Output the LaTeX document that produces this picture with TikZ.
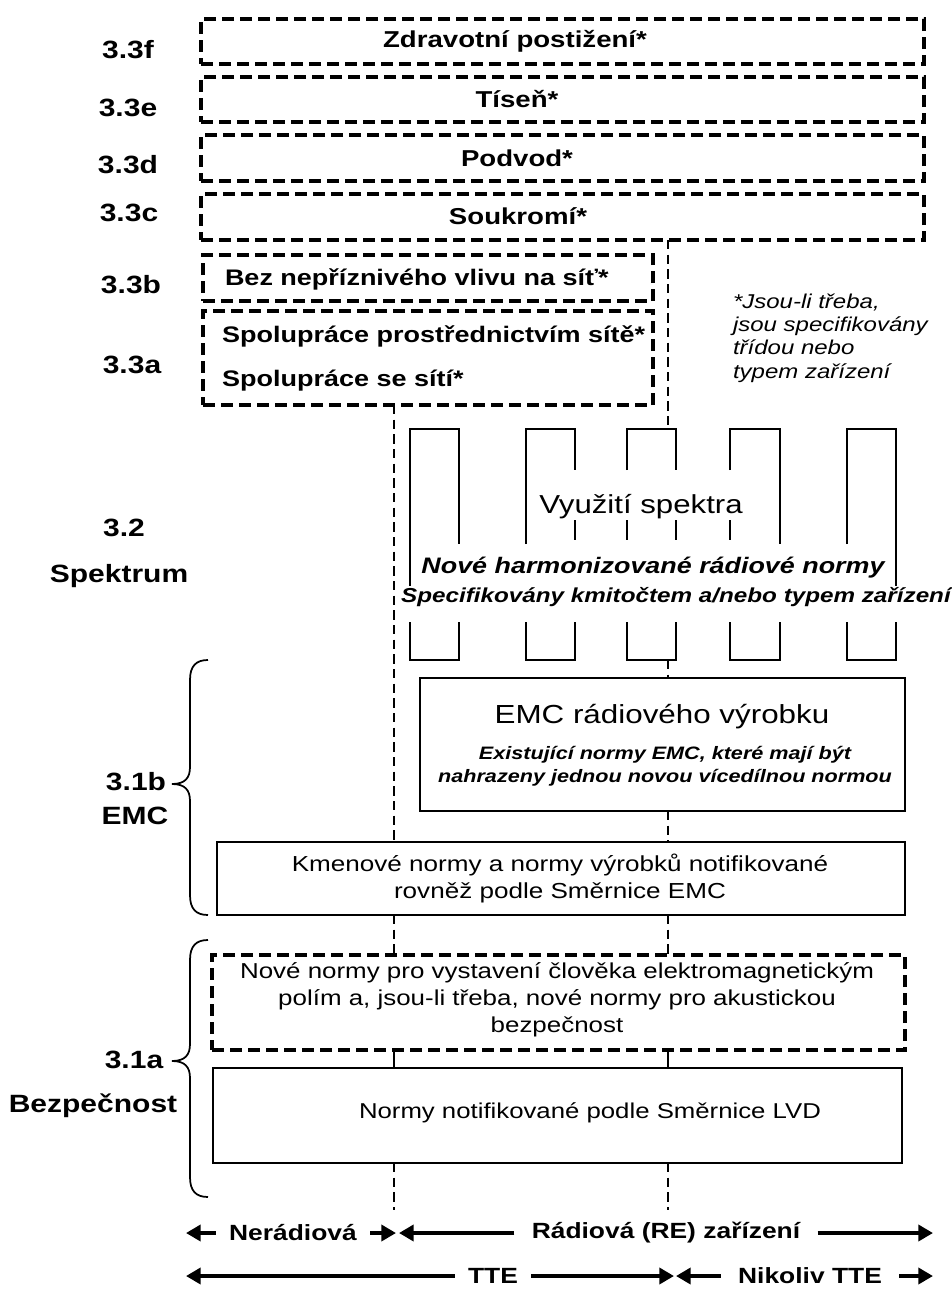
\documentclass[tikz,border=0pt]{standalone}
\usepackage{fontspec}
\setmainfont{Liberation Sans}[FakeStretch=1.2]
\usetikzlibrary{arrows.meta}
\begin{document}
\begin{tikzpicture}[x=0.75pt,y=-0.75pt,
  W/.style={minimum width=#1*0.75pt},
  H/.style={minimum height=#1*0.75pt},
  dbox/.style={draw, line width=2.3pt, dash pattern=on 9pt off 4.5pt, inner sep=0pt, outer sep=0pt},
  sbox/.style={draw, line width=2.1pt, inner sep=0pt, outer sep=0pt},
  vdash/.style={line width=1.8pt, dash pattern=on 7pt off 4pt},
  tickline/.style={line width=1.3pt},
  brk/.style={line width=2.1pt},
  bracepath/.style={line width=1.3pt},
  arr/.style={line width=2.8pt, -{Triangle[length=11pt,width=12pt]}},
  txt/.style={inner sep=0pt, outer sep=0pt},
  sec/.style={txt, font=\fontsize{18.75pt}{22pt}\selectfont\bfseries},
  topt/.style={txt, font=\fontsize{17.25pt}{20pt}\selectfont\bfseries},
  midt/.style={txt, font=\fontsize{16.875pt}{20pt}\selectfont\bfseries},
  body/.style={txt, align=center, font=\fontsize{16.3pt}{20.25pt}\selectfont},
  blab/.style={inner ysep=0pt, outer sep=0pt, font=\fontsize{16.5pt}{20pt}\selectfont\bfseries}
]
\useasboundingbox (0,0) rectangle (952,1290);

% ---------- section labels ----------
\node[sec] (l33f) at (128,50) {3.3f};
\node[sec] (l33e) at (128,108) {3.3e};
\node[sec] (l33d) at (128,165) {3.3d};
\node[sec] (l33c) at (129,213) {3.3c};
\node[sec] (l33b) at (131,285) {3.3b};
\node[sec] (l33a) at (132,365) {3.3a};
\node[sec] (l32) at (124,528) {3.2};
\node[sec] (lspek) at (119,576) {Spektrum};
\node[sec] (l31b) at (136,782) {3.1b};
\node[sec] (lemc) at (135,816) {EMC};
\node[sec] (l31a) at (134,1060) {3.1a};
\node[sec] (lbez) at (93,1106) {Bezpečnost};

% ---------- braces ----------
\draw[bracepath] (208,660) .. controls (196,660) and (190,666) .. (190,680)
  -- (190,767) .. controls (190,778) and (185,784) .. (172,784)
  .. controls (185,784) and (190,790) .. (190,801)
  -- (190,895) .. controls (190,909) and (196,915) .. (208,915);
\draw[bracepath] (208,940) .. controls (196,940) and (190,946) .. (190,960)
  -- (190,1044) .. controls (190,1055) and (185,1061) .. (172,1061)
  .. controls (185,1061) and (190,1067) .. (190,1078)
  -- (190,1177) .. controls (190,1191) and (196,1197) .. (208,1197);

% ---------- 3.3 boxes ----------
\node[dbox, W=723, H=45] (bf) at (562.5,41.5) {};
\node[dbox, W=723, H=45] (be) at (562.5,99.5) {};
\node[dbox, W=723, H=46] (bd) at (562.5,158) {};
\node[dbox, W=723, H=46] (bc) at (562.5,217) {};
\node[topt] (tf) at (515,41.5) {Zdravotní postižení*};
\node[topt] (te) at (517,99.5) {Tíseň*};
\node[topt] (td) at (517,158) {Podvod*};
\node[topt] (tc) at (518,216) {Soukromí*};

\node[dbox, W=450, H=46] (bb) at (428,278) {};
\node[dbox, W=450, H=94] (ba) at (428,358) {};
\node[midt, anchor=west] (tb) at (225,279) {Bez nepříznivého vlivu na síť*};
\node[midt, anchor=west] (ta1) at (222,336) {Spolupráce prostřednictvím sítě*};
\node[midt, anchor=west] (ta2) at (222,381) {Spolupráce se sítí*};

\node[txt, anchor=west, align=left, font=\fontsize{15pt}{17.6pt}\selectfont\itshape] (note) at (733,338)
  {*Jsou-li třeba,\\jsou specifikovány\\třídou nebo\\typem zařízení};

% ---------- vertical guide coordinates ----------
\coordinate (xL) at (394,0);
\coordinate (xR) at (668,0);
\coordinate (s3t) at (668,429);
\coordinate (s3b) at (668,660);

% ---------- spectrum brackets ----------
\draw[brk] (410,586) -- (410,429) -- (459,429) -- (459,544);
\draw[brk] (526,544) -- (526,429) -- (575,429) -- (575,470);
\draw[brk] (627,470) -- (627,429) -- (676,429) -- (676,470);
\draw[brk] (730,470) -- (730,429) -- (780,429) -- (780,544);
\draw[brk] (847,544) -- (847,429) -- (896,429) -- (896,586);
\foreach \xx in {575,627,676,730} \draw[brk] (\xx,520) -- (\xx,540);
\foreach \a/\b in {410/459,526/575,627/676,730/780,847/896}
  \draw[brk] (\a,622) -- (\a,660) -- (\b,660) -- (\b,622);

\node[txt, font=\fontsize{19.5pt}{22pt}\selectfont] (vyuz) at (641,507) {Využití spektra};
\node[txt, font=\fontsize{16.8pt}{20pt}\selectfont\bfseries\itshape] (harm) at (653,568) {Nové harmonizované rádiové normy};
\node[txt, font=\fontsize{15.15pt}{18pt}\selectfont\bfseries\itshape] (spec) at (676,597) {Specifikovány kmitočtem a/nebo typem zařízení};

% ---------- lower boxes ----------
\node[sbox, W=485, H=133] (emc) at (662.5,744.5) {};
\node[txt, font=\fontsize{19.6pt}{22pt}\selectfont] (emct) at (662,717) {EMC rádiového výrobku};
\node[txt, align=center, font=\fontsize{13.5pt}{17.25pt}\selectfont\bfseries\itshape] (emci) at (665,766.5)
  {Existující normy EMC, které mají být\\nahrazeny jednou novou vícedílnou normou};

\node[sbox, W=688, H=73] (kmen) at (561,878.5) {};
\node[body] (kment) at (560,878.5) {Kmenové normy a normy výrobků notifikované\\rovněž podle Směrnice EMC};

\node[dbox, W=693, H=95] (nove) at (558.5,1002.5) {};
\node[body, font=\fontsize{16.2pt}{20.25pt}\selectfont] (novet) at (557,1000)
  {Nové normy pro vystavení člověka elektromagnetickým\\polím a, jsou-li třeba, nové normy pro akustickou\\bezpečnost};

\node[sbox, W=689, H=95] (lvd) at (557.5,1115.5) {};
\node[body, font=\fontsize{16.1pt}{20pt}\selectfont] (lvdt) at (590,1113) {Normy notifikované podle Směrnice LVD};

% ---------- connectors ----------
\draw[vdash] (bc.south -| xR) -- (s3t);
\draw[vdash] (ba.south -| xL) -- (kmen.north -| xL);
\draw[vdash] (s3b) -- (emc.north -| xR);
\draw[vdash] (emc.south -| xR) -- (kmen.north -| xR);
\draw[vdash] (kmen.south -| xL) -- (nove.north -| xL);
\draw[vdash] (kmen.south -| xR) -- (nove.north -| xR);
\draw[tickline] (nove.south -| xL) -- (lvd.north -| xL);
\draw[tickline] (nove.south -| xR) -- (lvd.north -| xR);
\coordinate (endL) at (394,1210);
\coordinate (endR) at (668,1210);
\draw[vdash] (lvd.south -| xL) -- (endL);
\draw[vdash] (lvd.south -| xR) -- (endR);

% ---------- bottom arrows ----------
\node[blab, inner xsep=10pt] (ner) at (293,1233) {Nerádiová};
\node[blab, inner xsep=13pt] (rad) at (666,1233) {Rádiová (RE) zařízení};
\node[blab, inner xsep=10pt] (tte) at (493,1276) {TTE};
\node[blab, inner xsep=13pt] (nik) at (810,1276) {Nikoliv TTE};
\coordinate (a1) at (186,1233);
\coordinate (a2) at (396,1233);
\coordinate (a3) at (399,1233);
\coordinate (a4) at (933,1233);
\coordinate (b1) at (186,1276);
\coordinate (b2) at (674,1276);
\coordinate (b3) at (676,1276);
\coordinate (b4) at (933,1276);
\draw[arr] (ner) -- (a1);
\draw[arr] (ner) -- (a2);
\draw[arr] (rad) -- (a3);
\draw[arr] (rad) -- (a4);
\draw[arr] (tte) -- (b1);
\draw[arr] (tte) -- (b2);
\draw[arr] (nik) -- (b3);
\draw[arr] (nik) -- (b4);
\end{tikzpicture}
\end{document}
